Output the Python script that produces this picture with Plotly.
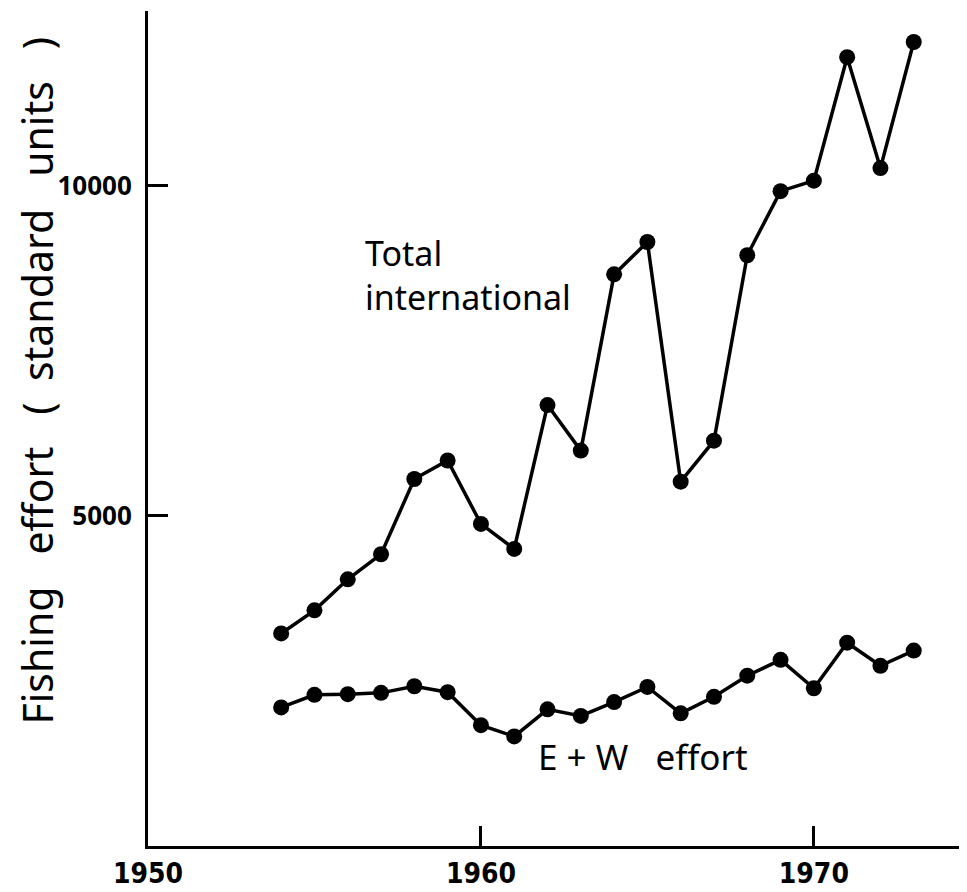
"""Fishing effort: total international vs E + W, 1954-1973."""
import plotly.graph_objects as go

years = list(range(1954, 1974))
total_international = [
    3220, 3570, 4040, 4420, 5560, 5840, 4880, 4500, 6680, 5990,
    8660, 9150, 5520, 6140, 8950, 9920, 10080, 11950, 10270, 12180,
]
ew_effort = [
    2100, 2290, 2300, 2320, 2420, 2330, 1830, 1660, 2070, 1970,
    2180, 2410, 2010, 2260, 2580, 2820, 2390, 3080, 2730, 2960,
]
x_ticks = [1950, 1960, 1970]
y_ticks = [5000, 10000]

INK = "black"
TEXT_FONT = "Noto Sans, DejaVu Sans, sans-serif"
TICK_FONT = "Liberation Sans Narrow, DejaVu Sans Condensed, Liberation Sans, sans-serif"

fig = go.Figure()
for ys in (total_international, ew_effort):
    fig.add_trace(go.Scatter(
        x=years, y=ys, mode="lines+markers",
        line=dict(color=INK, width=3.5),
        marker=dict(color=INK, size=16),
        showlegend=False, hoverinfo="skip",
    ))

# the page body has an 8px margin, so the figure is drawn 8px smaller
fig.add_annotation(
    x=1956.45, y=8650, xref="x", yref="y", xanchor="left", yanchor="middle",
    text="Total<br>international", align="left", showarrow=False,
    font=dict(family=TEXT_FONT, size=34, color=INK),
)
fig.add_annotation(
    x=1961.65, y=1350, xref="x", yref="y", xanchor="left", yanchor="middle",
    text="E + W   effort", showarrow=False,
    font=dict(family=TEXT_FONT, size=35, color=INK),
)
fig.add_annotation(
    x=-0.136, y=0.557, xref="paper", yref="paper", xanchor="center", yanchor="middle",
    textangle=-90, text="Fishing   effort   (  standard   units   )", showarrow=False,
    font=dict(family=TEXT_FONT, size=41, color=INK), borderpad=0,
)

fig.update_xaxes(
    range=[1950, 1974.6], tickvals=x_ticks, ticktext=[str(v) for v in x_ticks],
    ticks="inside", ticklen=20, tickwidth=3, tickcolor=INK,
    showline=True, linecolor=INK, linewidth=3, showgrid=False, zeroline=False,
    tickfont=dict(family=TICK_FONT, size=28, color=INK, weight="bold"),
    automargin=False,
)
fig.update_yaxes(
    range=[0, 12650], tickvals=y_ticks, ticktext=[str(v) for v in y_ticks],
    ticks="inside", ticklen=20, tickwidth=3, tickcolor=INK,
    showline=True, linecolor=INK, linewidth=3, showgrid=False, zeroline=False,
    tickfont=dict(family=TEXT_FONT, size=26, color=INK, weight="bold"),
    ticklabelstandoff=8, automargin=False,
)
fig.update_layout(
    width=959, height=884,
    margin=dict(l=140, r=0, t=3, b=46),
    paper_bgcolor="white", plot_bgcolor="white",
)
fig.write_html("out.html")
